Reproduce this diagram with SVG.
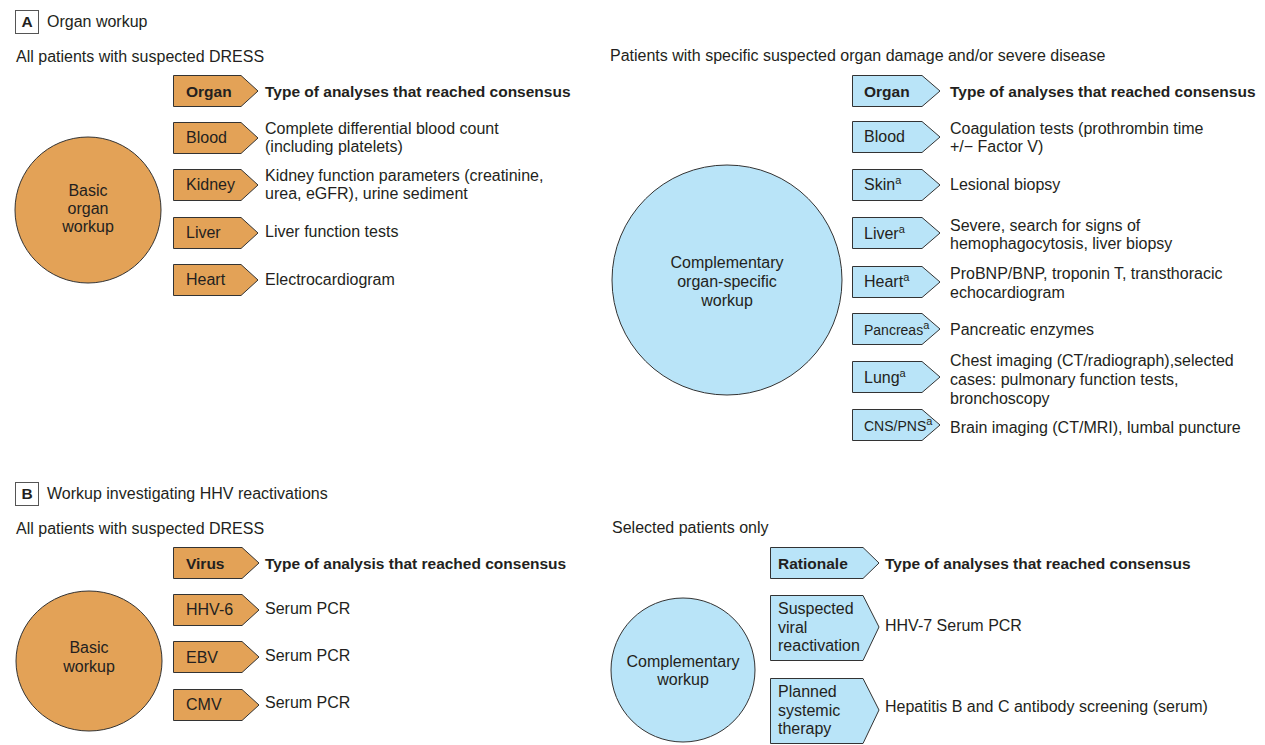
<svg xmlns="http://www.w3.org/2000/svg" width="1265" height="745" viewBox="0 0 1265 745">
<style>
text{font-family:"Liberation Sans",Arial,sans-serif;fill:#231f20;font-size:16px}
.b{font-weight:bold;font-size:15.5px}
.c{text-anchor:middle}
.sm{font-size:14px}
.org{fill:#e3a257;stroke:#333;stroke-width:1}
.blu{fill:#b9e4f8;stroke:#333;stroke-width:1}
.lbl{fill:none;stroke:#555;stroke-width:1}
.sup{font-size:11px}
</style>
<rect width="1265" height="745" fill="#fff"/>

<!-- Panel A header -->
<g id="panelA-title">
<rect class="lbl" x="15.5" y="10.5" width="23" height="23"/>
<text class="b c" x="27" y="27">A</text>
<text x="47" y="27">Organ workup</text>
</g>
<text x="16" y="62">All patients with suspected DRESS</text>
<text x="610" y="61">Patients with specific suspected organ damage and/or severe disease</text>

<!-- A left -->
<g id="basic-organ-workup">
<ellipse class="org" cx="88" cy="210" rx="73" ry="73"/>
<text class="c" x="88" y="196">Basic</text>
<text class="c" x="88" y="214">organ</text>
<text class="c" x="88" y="232">workup</text>
</g>
<g id="A-organ-header">
<path class="org" d="M173.5,75.5H241L258,91L241,106.5H173.5Z"/>
<text class="b" x="186" y="97">Organ</text>
<text class="b" x="265" y="97">Type of analyses that reached consensus</text>
</g>
<g id="A-blood">
<path class="org" d="M173.5,122.5H241L258,138L241,153.5H173.5Z"/>
<text x="186" y="143">Blood</text>
<text x="265" y="134">Complete differential blood count</text>
<text x="265" y="152">(including platelets)</text>
</g>
<g id="A-kidney">
<path class="org" d="M173.5,169.5H241L258,185L241,200.5H173.5Z"/>
<text x="186" y="190">Kidney</text>
<text x="265" y="181">Kidney function parameters (creatinine,</text>
<text x="265" y="199">urea, eGFR), urine sediment</text>
</g>
<g id="A-liver">
<path class="org" d="M173.5,217.5H241L258,233L241,248.5H173.5Z"/>
<text x="186" y="238">Liver</text>
<text x="265" y="237">Liver function tests</text>
</g>
<g id="A-heart">
<path class="org" d="M173.5,264.5H241L258,280L241,295.5H173.5Z"/>
<text x="186" y="285">Heart</text>
<text x="265" y="285">Electrocardiogram</text>
</g>

<!-- A right -->
<g id="complementary-organ-workup">
<ellipse class="blu" cx="727" cy="280" rx="115" ry="115"/>
<text class="c" x="727" y="268">Complementary</text>
<text class="c" x="727" y="287">organ-specific</text>
<text class="c" x="727" y="306">workup</text>
</g>
<g id="A2-organ-header">
<path class="blu" d="M852.5,75.5H922L940,91L922,106.5H852.5Z"/>
<text class="b" x="864" y="97">Organ</text>
<text class="b" x="950" y="97">Type of analyses that reached consensus</text>
</g>
<g id="A2-blood">
<path class="blu" d="M852.5,121.5H922L940,137L922,152.5H852.5Z"/>
<text x="864" y="142">Blood</text>
<text x="950" y="134">Coagulation tests (prothrombin time</text>
<text x="950" y="152">+/− Factor V)</text>
</g>
<g id="A2-skin">
<path class="blu" d="M852.5,169.5H922L940,185L922,200.5H852.5Z"/>
<text x="864" y="190">Skin<tspan class="sup" dy="-6">a</tspan></text>
<text x="950" y="190">Lesional biopsy</text>
</g>
<g id="A2-liver">
<path class="blu" d="M852.5,217.5H922L940,233L922,248.5H852.5Z"/>
<text x="864" y="239">Liver<tspan class="sup" dy="-6">a</tspan></text>
<text x="950" y="231">Severe, search for signs of</text>
<text x="950" y="249">hemophagocytosis, liver biopsy</text>
</g>
<g id="A2-heart">
<path class="blu" d="M852.5,266.5H922L940,282L922,297.5H852.5Z"/>
<text x="864" y="287">Heart<tspan class="sup" dy="-6">a</tspan></text>
<text x="950" y="279">ProBNP/BNP, troponin T, transthoracic</text>
<text x="950" y="298">echocardiogram</text>
</g>
<g id="A2-pancreas">
<path class="blu" d="M852.5,313.5H922L940,329L922,344.5H852.5Z"/>
<text class="sm" x="864" y="335">Pancreas<tspan class="sup" dy="-6">a</tspan></text>
<text x="950" y="335">Pancreatic enzymes</text>
</g>
<g id="A2-lung">
<path class="blu" d="M852.5,361.5H922L940,377L922,392.5H852.5Z"/>
<text x="864" y="383">Lung<tspan class="sup" dy="-6">a</tspan></text>
<text x="950" y="366">Chest imaging (CT/radiograph),selected</text>
<text x="950" y="385">cases: pulmonary function tests,</text>
<text x="950" y="404">bronchoscopy</text>
</g>
<g id="A2-cns">
<path class="blu" d="M852.5,409.5H922L940,425L922,440.5H852.5Z"/>
<text class="sm" x="864" y="431">CNS/PNS<tspan class="sup" dy="-6">a</tspan></text>
<text x="950" y="433">Brain imaging (CT/MRI), lumbal puncture</text>
</g>

<!-- Panel B header -->
<g id="panelB-title">
<rect class="lbl" x="15.5" y="482.5" width="23" height="23"/>
<text class="b c" x="27" y="499">B</text>
<text x="47" y="499">Workup investigating HHV reactivations</text>
</g>
<text x="16" y="534">All patients with suspected DRESS</text>
<text x="612" y="533">Selected patients only</text>

<!-- B left -->
<g id="basic-workup">
<ellipse class="org" cx="89" cy="661" rx="73" ry="70"/>
<text class="c" x="89" y="653">Basic</text>
<text class="c" x="89" y="672">workup</text>
</g>
<g id="B-virus-header">
<path class="org" d="M173.5,547.5H242L259,563L242,578.5H173.5Z"/>
<text class="b" x="186" y="569">Virus</text>
<text class="b" x="265" y="569">Type of analysis that reached consensus</text>
</g>
<g id="B-hhv6">
<path class="org" d="M173.5,594.5H242L259,610L242,625.5H173.5Z"/>
<text x="186" y="615">HHV-6</text>
<text x="265" y="614">Serum PCR</text>
</g>
<g id="B-ebv">
<path class="org" d="M173.5,641.5H242L259,657L242,672.5H173.5Z"/>
<text x="186" y="663">EBV</text>
<text x="265" y="661">Serum PCR</text>
</g>
<g id="B-cmv">
<path class="org" d="M173.5,689.5H242L259,705L242,720.5H173.5Z"/>
<text x="186" y="710">CMV</text>
<text x="265" y="708">Serum PCR</text>
</g>

<!-- B right -->
<g id="complementary-workup">
<ellipse class="blu" cx="683" cy="670" rx="72" ry="72"/>
<text class="c" x="683" y="667">Complementary</text>
<text class="c" x="683" y="685">workup</text>
</g>
<g id="B2-rationale-header">
<path class="blu" d="M770.5,547.5H863L879,563L863,578.5H770.5Z"/>
<text class="b" x="778" y="569">Rationale</text>
<text class="b" x="885" y="569">Type of analyses that reached consensus</text>
</g>
<g id="B2-suspected">
<path class="blu" d="M770.5,595.5H863L879,627L863,660.5H770.5Z"/>
<text x="778" y="614">Suspected</text>
<text x="778" y="633">viral</text>
<text x="778" y="651">reactivation</text>
<text x="885" y="631">HHV-7 Serum PCR</text>
</g>
<g id="B2-planned">
<path class="blu" d="M770.5,678.5H863L879,710L863,743.5H770.5Z"/>
<text x="778" y="697">Planned</text>
<text x="778" y="716">systemic</text>
<text x="778" y="734">therapy</text>
<text x="885" y="712">Hepatitis B and C antibody screening (serum)</text>
</g>

<g id="connectors"></g>
</svg>
